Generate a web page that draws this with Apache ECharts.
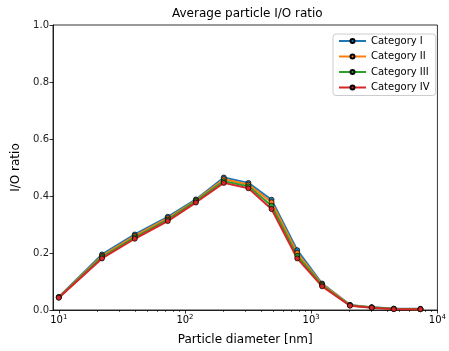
<!DOCTYPE html>
<html>
<head>
<meta charset="utf-8">
<script src="https://cdn.jsdelivr.net/npm/echarts@6/dist/echarts.min.js"></script>
<style>
html,body{margin:0;padding:0;background:#fff;}
#chart{width:449px;height:351px;}
</style>
</head>
<body>
<div id="chart"></div>
<script>
var diameters = [10, 22, 40, 73, 122, 203, 318, 485, 775, 1220, 2030, 3020, 4510, 7340];
var catI   = [0.046, 0.195, 0.265, 0.327, 0.388, 0.465, 0.446, 0.387, 0.210, 0.093, 0.018, 0.010, 0.005, 0.004];
var catII  = [0.045, 0.190, 0.260, 0.322, 0.385, 0.459, 0.440, 0.378, 0.200, 0.090, 0.017, 0.009, 0.004, 0.003];
var catIII = [0.044, 0.186, 0.255, 0.317, 0.382, 0.452, 0.434, 0.366, 0.190, 0.087, 0.016, 0.009, 0.004, 0.003];
var catIV  = [0.043, 0.181, 0.250, 0.312, 0.377, 0.446, 0.427, 0.354, 0.181, 0.083, 0.015, 0.008, 0.003, 0.003];
var seriesNames = ['Category I', 'Category II', 'Category III', 'Category IV'];
var majorTicks = [10, 100, 1000, 10000];
var minorTicks = [20,30,40,50,60,70,80,90,200,300,400,500,600,700,800,900,2000,3000,4000,5000,6000,7000,8000,9000];
var yTicks = [0, 0.2, 0.4, 0.6, 0.8, 1.0];

var colors = ['#1f77b4', '#ff7f0e', '#2ca02c', '#d62728'];
var allData = [catI, catII, catIII, catIV];
var font = 'DejaVu Sans';

function pairs(ys) {
  return diameters.map(function (d, i) { return [d, ys[i]]; });
}

var chart = echarts.init(document.getElementById('chart'), null, {renderer: 'canvas'});
var option = {
  animation: false,
  backgroundColor: '#fff',
  color: colors,
  textStyle: {fontFamily: font},
  title: {
    text: 'Average particle I/O ratio',
    left: 167, top: 3,
    textStyle: {fontFamily: font, fontSize: 12, fontWeight: 'normal', color: '#000'}
  },
  legend: {
    orient: 'vertical',
    left: 333, top: 34,
    padding: [2, 6, 3, 5],
    itemGap: 5.5,
    itemWidth: 27,
    itemHeight: 5,
    borderColor: '#ccc',
    borderWidth: 1,
    borderRadius: 3,
    backgroundColor: 'rgba(255,255,255,0.8)',
    textStyle: {fontFamily: font, fontSize: 10, color: '#000'},
    data: seriesNames
  },
  grid: {
    left: 53, right: 9, top: 25, bottom: 37,
    show: true, borderColor: '#000', borderWidth: 0.8, backgroundColor: 'transparent',
    containLabel: false
  },
  xAxis: [{
    type: 'log', logBase: 10, min: 9, max: 10000,
    name: 'Particle diameter [nm]', nameLocation: 'middle', nameGap: 24,
    nameTextStyle: {fontFamily: font, fontSize: 12, color: '#000'},
    axisLine: {show: true, lineStyle: {color: '#000', width: 0.8}},
    axisTick: {show: true, length: 3.5, lineStyle: {color: '#000', width: 0.8}, customValues: majorTicks},
    axisLabel: {
      customValues: majorTicks, margin: 4, color: '#000',
      formatter: function (v) { return '{b|10}{s|' + Math.round(Math.log10(v)) + '}'; },
      rich: {
        b: {fontFamily: font, fontSize: 10, color: '#000', verticalAlign: 'bottom', lineHeight: 11},
        s: {fontFamily: font, fontSize: 7, color: '#000', verticalAlign: 'top', lineHeight: 8, padding: [0, 0, 5, 0]}
      }
    },
    splitLine: {show: false}
  }, {
    type: 'log', logBase: 10, min: 9, max: 10000, gridIndex: 0, position: 'bottom',
    axisLine: {show: false},
    axisTick: {show: true, length: 2, lineStyle: {color: '#000', width: 0.6}, customValues: minorTicks},
    axisLabel: {show: false},
    splitLine: {show: false}
  }],
  yAxis: {
    type: 'value', min: 0, max: 1, interval: 0.2,
    name: 'I/O ratio', nameLocation: 'middle', nameGap: 25,
    nameTextStyle: {fontFamily: font, fontSize: 12, color: '#000'},
    axisLine: {show: true, lineStyle: {color: '#000', width: 0.8}},
    axisTick: {show: true, length: 3.5, lineStyle: {color: '#000', width: 0.8}},
    axisLabel: {
      margin: 4, color: '#222', fontFamily: font, fontSize: 10,
      formatter: function (v) { return v.toFixed(1); }
    },
    splitLine: {show: false}
  },
  series: seriesNames.map(function (n, i) {
    return {
      name: n, type: 'line', xAxisIndex: 0,
      data: pairs(allData[i]),
      symbol: 'circle', symbolSize: 5, showSymbol: true,
      lineStyle: {width: 2, color: colors[i]},
      itemStyle: {color: colors[i], borderColor: '#000', borderWidth: 0.7},
      emphasis: {disabled: true}
    };
  })
};
chart.setOption(option);
</script>
</body>
</html>
